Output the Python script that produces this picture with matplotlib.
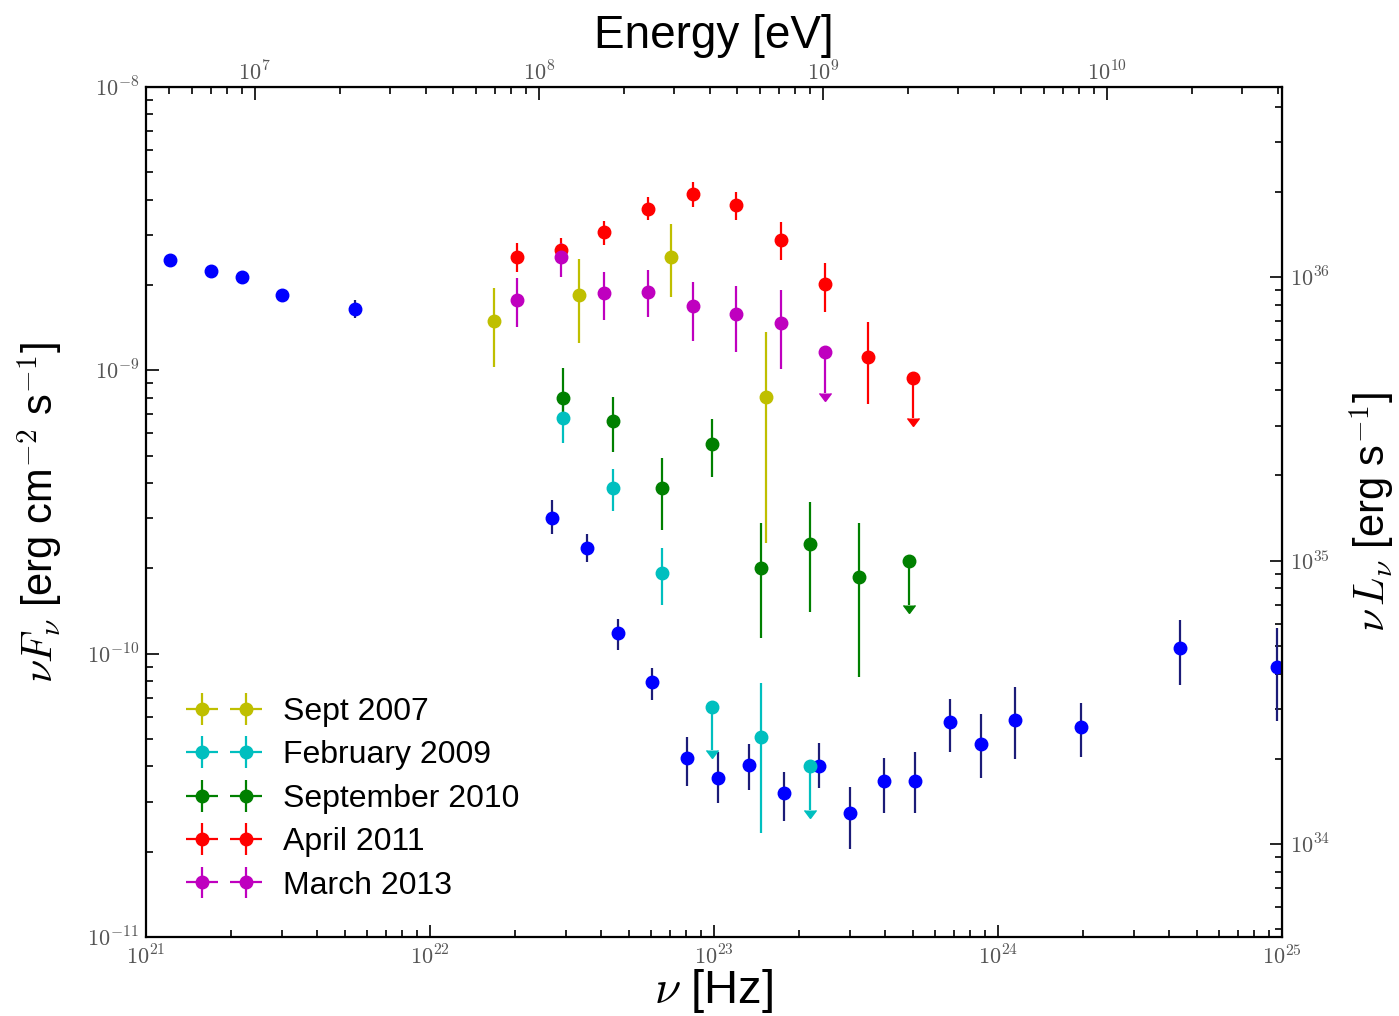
import numpy as np
import matplotlib
matplotlib.use('Agg')
import matplotlib.pyplot as plt
from matplotlib.ticker import LogLocator, FuncFormatter, NullFormatter, FixedLocator

plt.rcParams['font.family'] = ['Liberation Sans', 'DejaVu Sans']
plt.rcParams['mathtext.fontset'] = 'cm'

# ---------------- data ----------------
# Blue: time-averaged spectrum (no legend entry)
nu_avg = [1.21e21, 1.70e21, 2.18e21, 3.01e21, 5.44e21, 2.68e22, 3.56e22, 4.58e22,
          6.06e22, 8.05e22, 1.03e23, 1.33e23, 1.76e23, 2.34e23, 3.00e23, 3.97e23,
          5.10e23, 6.78e23, 8.69e23, 1.15e24, 1.96e24, 4.37e24, 9.58e24]
f_avg = [2.46e-9, 2.24e-9, 2.14e-9, 1.84e-9, 1.64e-9, 3.02e-10, 2.36e-10, 1.18e-10,
         7.94e-11, 4.29e-11, 3.65e-11, 4.03e-11, 3.23e-11, 4.02e-11, 2.75e-11, 3.56e-11,
         3.56e-11, 5.72e-11, 4.78e-11, 5.83e-11, 5.49e-11, 1.05e-10, 8.95e-11]
hi_avg = [2.52e-9, 2.30e-9, 2.20e-9, 1.90e-9, 1.77e-9, 3.48e-10, 2.64e-10, 1.33e-10,
          8.89e-11, 5.09e-11, 4.48e-11, 4.78e-11, 3.83e-11, 4.85e-11, 3.39e-11, 4.27e-11,
          4.48e-11, 6.91e-11, 6.12e-11, 7.60e-11, 6.71e-11, 1.31e-10, 1.23e-10]
lo_avg = [2.40e-9, 2.18e-9, 2.08e-9, 1.78e-9, 1.53e-9, 2.64e-10, 2.10e-10, 1.03e-10,
          6.86e-11, 3.41e-11, 2.96e-11, 3.30e-11, 2.57e-11, 3.35e-11, 2.04e-11, 2.74e-11,
          2.74e-11, 4.50e-11, 3.63e-11, 4.24e-11, 4.31e-11, 7.75e-11, 5.80e-11]

# Sept 2007
nu_2007 = [1.68e22, 3.36e22, 7.07e22, 1.53e23]
f_2007 = [1.49e-9, 1.84e-9, 2.52e-9, 8.05e-10]
hi_2007 = [1.96e-9, 2.48e-9, 3.28e-9, 1.37e-9]
lo_2007 = [1.03e-9, 1.25e-9, 1.82e-9, 2.45e-10]

# February 2009
nu_2009 = [2.95e22, 4.40e22, 6.56e22, 1.46e23]
f_2009 = [6.80e-10, 3.83e-10, 1.93e-10, 5.09e-11]
hi_2009 = [7.98e-10, 4.47e-10, 2.36e-10, 7.86e-11]
lo_2009 = [5.52e-10, 3.19e-10, 1.49e-10, 2.32e-11]
nu_2009_ul = [9.81e22, 2.18e23]
f_2009_ul = [6.46e-11, 4.02e-11]
tip_2009_ul = [4.57e-11, 2.80e-11]

# September 2010
nu_2010 = [2.95e22, 4.40e22, 6.56e22, 9.81e22, 1.46e23, 2.18e23, 3.25e23]
f_2010 = [7.96e-10, 6.61e-10, 3.83e-10, 5.48e-10, 2.01e-10, 2.43e-10, 1.86e-10]
hi_2010 = [1.02e-9, 8.07e-10, 4.91e-10, 6.71e-10, 2.90e-10, 3.44e-10, 2.90e-10]
lo_2010 = [6.41e-10, 5.16e-10, 2.73e-10, 4.21e-10, 1.14e-10, 1.40e-10, 8.25e-11]
nu_2010_ul = [4.87e23]
f_2010_ul = [2.12e-10]
tip_2010_ul = [1.48e-10]

# April 2011
nu_2011 = [2.02e22, 2.89e22, 4.11e22, 5.87e22, 8.46e22, 1.20e23, 1.72e23, 2.46e23, 3.49e23]
f_2011 = [2.52e-9, 2.66e-9, 3.07e-9, 3.72e-9, 4.19e-9, 3.83e-9, 2.88e-9, 2.01e-9, 1.117e-9]
hi_2011 = [2.81e-9, 2.94e-9, 3.37e-9, 4.08e-9, 4.61e-9, 4.27e-9, 3.33e-9, 2.40e-9, 1.477e-9]
lo_2011 = [2.23e-9, 2.39e-9, 2.77e-9, 3.39e-9, 3.78e-9, 3.39e-9, 2.45e-9, 1.60e-9, 7.60e-10]
nu_2011_ul = [5.01e23]
f_2011_ul = [9.37e-10]
tip_2011_ul = [6.77e-10]

# March 2013
nu_2013 = [2.02e22, 2.89e22, 4.11e22, 5.87e22, 8.46e22, 1.20e23, 1.72e23]
f_2013 = [1.77e-9, 2.52e-9, 1.88e-9, 1.89e-9, 1.68e-9, 1.58e-9, 1.47e-9]
hi_2013 = [2.12e-9, 2.81e-9, 2.23e-9, 2.26e-9, 2.05e-9, 1.99e-9, 1.92e-9]
lo_2013 = [1.425e-9, 2.13e-9, 1.51e-9, 1.54e-9, 1.27e-9, 1.157e-9, 1.01e-9]
nu_2013_ul = [2.46e23]
f_2013_ul = [1.157e-9]
tip_2013_ul = [8.30e-10]

# tick values of the secondary axes
energy_ticks = [1e7, 1e8, 1e9, 1e10]
lum_ticks = [1e34, 1e35, 1e36]

H_EV = 4.1357e-15      # eV s
LUM_FACTOR = 4.7e44    # 4 pi d^2 (cm^2)

# ---------------- figure ----------------
fig = plt.figure(figsize=(13.99, 10.16), dpi=100)
ax = fig.add_axes([146 / 1399, 1 - 937 / 1016, (1282 - 146) / 1399, (937 - 87) / 1016])
ax.set_xscale('log')
ax.set_yscale('log')

MS = 9
ELW = 1.6


def series(nu, f, lo, hi, color, label=None, ecolor=None):
    nu = np.asarray(nu)
    f = np.asarray(f)
    yerr = np.vstack([f - np.asarray(lo), np.asarray(hi) - f])
    return ax.errorbar(nu, f, yerr=yerr, xerr=np.zeros_like(nu), fmt='o', color=color,
                       ecolor=ecolor or color, ms=MS, elinewidth=ELW, capsize=0,
                       mec=color, label=label)


def upper(nu, f, tip, color):
    nu = np.asarray(nu)
    f = np.asarray(f)
    ax.errorbar(nu, f, yerr=f - np.asarray(tip), uplims=True, fmt='o', color=color,
                ecolor=color, ms=MS, elinewidth=ELW, capsize=4, mec=color)


series(nu_avg, f_avg, lo_avg, hi_avg, 'b', ecolor='#1c1c78')
h07 = series(nu_2007, f_2007, lo_2007, hi_2007, 'y', 'Sept 2007')
h09 = series(nu_2009, f_2009, lo_2009, hi_2009, 'c', 'February 2009')
upper(nu_2009_ul, f_2009_ul, tip_2009_ul, 'c')
h10 = series(nu_2010, f_2010, lo_2010, hi_2010, 'g', 'September 2010')
upper(nu_2010_ul, f_2010_ul, tip_2010_ul, 'g')
h11 = series(nu_2011, f_2011, lo_2011, hi_2011, 'r', 'April 2011')
upper(nu_2011_ul, f_2011_ul, tip_2011_ul, 'r')
h13 = series(nu_2013, f_2013, lo_2013, hi_2013, 'm', 'March 2013')
upper(nu_2013_ul, f_2013_ul, tip_2013_ul, 'm')

ax.set_xlim(1e21, 1e25)
ax.set_ylim(1e-11, 1e-8)

fmt = FuncFormatter(lambda v, p: r'$10^{%d}$' % int(round(np.log10(v))))
TICKCOL = '#555555'
TLS = 16


def style_axis(axis_obj, major=None):
    if major is None:
        axis_obj.set_major_locator(LogLocator(base=10, numticks=20))
    else:
        axis_obj.set_major_locator(FixedLocator(major))
    axis_obj.set_minor_locator(LogLocator(base=10, subs=np.arange(2, 10), numticks=20))
    axis_obj.set_major_formatter(fmt)
    axis_obj.set_minor_formatter(NullFormatter())


style_axis(ax.xaxis)
style_axis(ax.yaxis)
ax.tick_params(which='both', direction='in', top=False, right=False,
               labelsize=TLS, labelcolor=TICKCOL, width=1.2)
ax.tick_params(which='major', length=9)
ax.tick_params(which='minor', length=5)
ax.tick_params(axis='x', pad=6)
ax.tick_params(axis='y', pad=5)
for s in ax.spines.values():
    s.set_linewidth(1.6)

secx = ax.secondary_xaxis('top', functions=(lambda x: x * H_EV, lambda e: e / H_EV))
style_axis(secx.xaxis, energy_ticks)
secx.tick_params(which='both', direction='in', labelsize=TLS, labelcolor=TICKCOL, width=1.2)
secx.tick_params(which='major', length=9, pad=1)
secx.tick_params(which='minor', length=5)
secx.set_xlabel('Energy [eV]', fontsize=33, labelpad=10)

secy = ax.secondary_yaxis('right', functions=(lambda f: f * LUM_FACTOR, lambda l: l / LUM_FACTOR))
style_axis(secy.yaxis, lum_ticks)
secy.tick_params(which='both', direction='in', labelsize=TLS, labelcolor=TICKCOL, width=1.2)
secy.tick_params(which='major', length=9, pad=6)
secy.tick_params(which='minor', length=5)
secy.set_ylabel(r'$\nu\, L_\nu$ [erg s$^{-1}$]', fontsize=30, rotation=90, labelpad=12)

ax.set_xlabel(r'$\nu$ [Hz]', fontsize=34, labelpad=-2)
ax.set_ylabel(r'$\nu F_\nu$ [erg cm$^{-2}$ s$^{-1}$]', fontsize=30, labelpad=16)

leg = ax.legend(handles=[h07, h09, h10, h11, h13], loc='upper left',
                bbox_to_anchor=(192 / 1399, 1 - 697 / 1016), bbox_transform=fig.transFigure,
                frameon=False, numpoints=2, fontsize=23, handlelength=2.0,
                handletextpad=0.85, labelspacing=0.42, borderpad=0, borderaxespad=0)

fig.savefig('out.png', dpi=100)
